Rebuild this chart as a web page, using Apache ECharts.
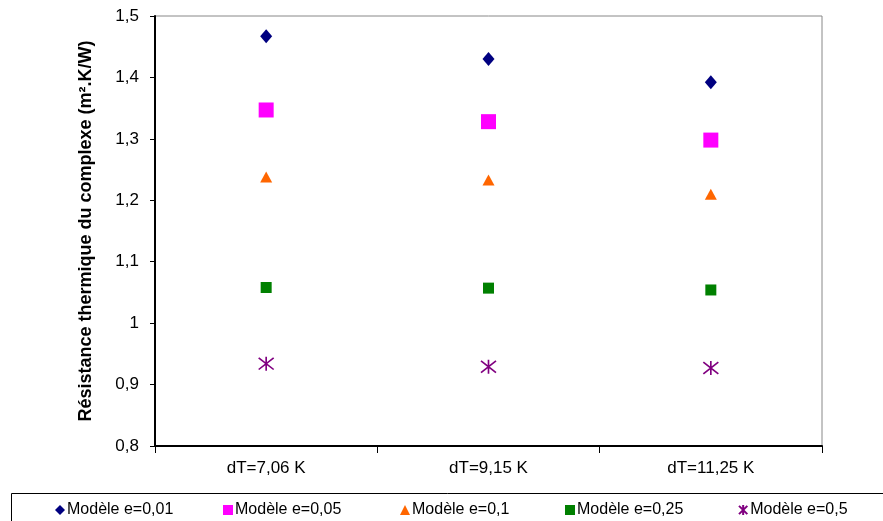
<!DOCTYPE html>
<html><head><meta charset="utf-8">
<script src="https://cdn.jsdelivr.net/npm/echarts@6/dist/echarts.min.js"></script>
<style>html,body{margin:0;padding:0;background:#fff}#c{width:883px;height:521px}</style>
</head><body><div id="c"></div>
<script>
const categories = ['dT=7,06 K', 'dT=9,15 K', 'dT=11,25 K'];
const seriesNames = ['Modèle e=0,01', 'Modèle e=0,05', 'Modèle e=0,1', 'Modèle e=0,25', 'Modèle e=0,5'];
const e001 = [1.467, 1.430, 1.392];
const e005 = [1.347, 1.328, 1.298];
const e01  = [1.238, 1.233, 1.210];
const e025 = [1.058, 1.057, 1.054];
const e05  = [0.934, 0.929, 0.927];
const yTicks = { min: 0.8, max: 1.5, interval: 0.1 };

const F = 'Liberation Sans, Arial, sans-serif';
const star = 'path://M0,0L10,10M10,0L0,10M5,-1L5,11';
const defs = [
  {data: e001, color: '#000080', symbol: 'diamond', size: [12, 14]},
  {data: e005, color: '#FF00FF', symbol: 'rect', size: 15},
  {data: e01,  color: '#FF6600', symbol: 'triangle', size: [12, 11]},
  {data: e025, color: '#008000', symbol: 'rect', size: [11, 11]},
  {data: e05,  color: '#800080', symbol: star, size: [15, 14]}
];
const legendX = [55, 223, 400, 565, 738];
const series = defs.map((d, i) => ({
  name: seriesNames[i], type: 'scatter', data: d.data, symbol: d.symbol, symbolSize: d.size,
  itemStyle: i === 4 ? {color: d.color, borderColor: d.color, borderWidth: 1.6, opacity: 1} : {color: d.color, opacity: 1},
  emphasis: {disabled: true}
}));
const legends = seriesNames.map((n, i) => ({
  data: [n], left: legendX[i], top: 502, padding: 0, itemWidth: 10, itemHeight: 10, itemGap: 0,
  textStyle: {fontFamily: F, fontSize: 16, color: '#000', padding: [0, 0, 0, -3]},
  selectedMode: false
}));

const chart = echarts.init(document.getElementById('c'), null, {renderer: 'canvas'});
chart.setOption({
  animation: false,
  backgroundColor: '#fff',
  grid: {left: 155, right: 61, top: 16, bottom: 75, show: true, borderColor: '#888', borderWidth: 1},
  legend: legends,
  graphic: [{type: 'rect', shape: {x: 11.5, y: 493.5, width: 900, height: 60}, style: {fill: 'none', stroke: '#000', lineWidth: 1}, silent: true}],
  xAxis: {
    type: 'category', data: categories, boundaryGap: true,
    axisLine: {lineStyle: {color: '#000', width: 2}},
    axisTick: {show: true, length: 7, lineStyle: {color: '#000'}},
    axisLabel: {fontFamily: F, fontSize: 17, color: '#000', margin: 14},
    splitLine: {show: false}
  },
  yAxis: {
    type: 'value', min: yTicks.min, max: yTicks.max, interval: yTicks.interval,
    name: 'Résistance thermique du complexe (m².K/W)', nameLocation: 'middle', nameGap: 60,
    nameTextStyle: {fontFamily: F, fontSize: 18, fontWeight: 'bold', color: '#000'},
    axisLine: {show: true, lineStyle: {color: '#000', width: 2}},
    axisTick: {show: true, length: 5, lineStyle: {color: '#000'}},
    axisLabel: {fontFamily: F, fontSize: 17, color: '#000', margin: 16,
      formatter: v => (Math.round(v * 10) / 10).toString().replace('.', ',')},
    splitLine: {show: false}
  },
  series: series
});
</script></body></html>
